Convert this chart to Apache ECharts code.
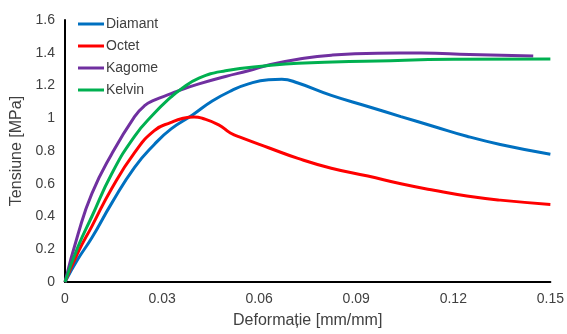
<!DOCTYPE html>
<html>
<head>
<meta charset="utf-8">
<script src="https://cdn.jsdelivr.net/npm/echarts@6/dist/echarts.min.js"></script>
<style>
  html, body { margin: 0; padding: 0; background: #fff; }
  #chart { width: 567px; height: 334px; }
</style>
</head>
<body>
<div id="chart"></div>
<script>
// strain [mm/mm] and stress [MPa]
const diamantX = [0, 0.004, 0.0083, 0.0144, 0.0215, 0.0276, 0.0328, 0.0394, 0.0455, 0.0516, 0.0567, 0.0629, 0.067, 0.072, 0.0823, 0.0936, 0.1038, 0.114, 0.1242, 0.1345, 0.15];
const diamantY = [0, 0.14, 0.27, 0.48, 0.70, 0.84, 0.935, 1.02, 1.105, 1.17, 1.21, 1.235, 1.238, 1.215, 1.14, 1.072, 1.01, 0.95, 0.89, 0.84, 0.78];

const octetX = [0, 0.004, 0.0083, 0.0144, 0.0215, 0.0276, 0.0328, 0.0365, 0.0399, 0.0424, 0.0475, 0.0511, 0.0547, 0.0629, 0.072, 0.0823, 0.0936, 0.1038, 0.114, 0.1242, 0.1345, 0.15];
const octetY = [0, 0.18, 0.34, 0.57, 0.79, 0.925, 0.975, 1.0, 1.008, 1.0, 0.96, 0.91, 0.88, 0.82, 0.755, 0.695, 0.647, 0.60, 0.56, 0.525, 0.50, 0.474];

const kagomeX = [0, 0.004, 0.0083, 0.0144, 0.0215, 0.0245, 0.0276, 0.0328, 0.0353, 0.0414, 0.0496, 0.0567, 0.0629, 0.072, 0.0823, 0.0966, 0.11, 0.125, 0.1447];
const kagomeY = [0, 0.29, 0.54, 0.78, 1.01, 1.075, 1.11, 1.15, 1.17, 1.21, 1.255, 1.29, 1.325, 1.36, 1.385, 1.397, 1.398, 1.39, 1.38];

const kelvinX = [0, 0.004, 0.0083, 0.0144, 0.0215, 0.0276, 0.0328, 0.0353, 0.0414, 0.0496, 0.0629, 0.072, 0.0966, 0.12, 0.15];
const kelvinY = [0, 0.215, 0.40, 0.66, 0.89, 1.03, 1.13, 1.17, 1.245, 1.29, 1.322, 1.336, 1.35, 1.36, 1.362];

const xTicks = { min: 0, max: 0.15, interval: 0.03 };
const yTicks = { min: 0, max: 1.6, interval: 0.2 };

const pairs = (xs, ys) => xs.map((x, i) => [x, ys[i]]);

const chart = echarts.init(document.getElementById('chart'));

const mkSeries = (name, xs, ys, color) => ({
  name: name,
  type: 'line',
  data: pairs(xs, ys),
  smooth: 0.5,
  showSymbol: false,
  lineStyle: { width: 3, color: color },
  itemStyle: { color: color }
});

const axisText = { color: '#404040', fontSize: 14, fontFamily: 'Liberation Sans, Arial, sans-serif' };

chart.setOption({
  animation: false,
  textStyle: { fontFamily: 'Liberation Sans, Arial, sans-serif' },
  grid: { left: 65, right: 14, top: 20, bottom: 51 },
  legend: {
    orient: 'vertical',
    left: 73,
    top: 12,
    itemWidth: 26,
    itemHeight: 3,
    itemGap: 8,
    icon: 'rect',
    textStyle: { color: '#404040', fontSize: 14, padding: [0, 0, 0, -3] },
    data: ['Diamant', 'Octet', 'Kagome', 'Kelvin']
  },
  xAxis: {
    type: 'value',
    min: xTicks.min,
    max: xTicks.max,
    interval: xTicks.interval,
    name: 'Deformație [mm/mm]',
    nameLocation: 'middle',
    nameGap: 31,
    nameTextStyle: { color: '#404040', fontSize: 16 },
    axisLine: { lineStyle: { color: '#000', width: 2 } },
    axisTick: { show: false },
    axisLabel: Object.assign({ margin: 10 }, axisText),
    splitLine: { show: false }
  },
  yAxis: {
    type: 'value',
    min: yTicks.min,
    max: yTicks.max,
    interval: yTicks.interval,
    name: 'Tensiune [MPa]',
    nameLocation: 'middle',
    nameGap: 38,
    nameTextStyle: { color: '#404040', fontSize: 16 },
    axisLine: { show: true, lineStyle: { color: '#000', width: 2 } },
    axisTick: { show: false },
    axisLabel: Object.assign({ margin: 10 }, axisText),
    splitLine: { show: false }
  },
  series: [
    mkSeries('Diamant', diamantX, diamantY, '#0070C0'),
    mkSeries('Octet', octetX, octetY, '#FF0000'),
    mkSeries('Kagome', kagomeX, kagomeY, '#7030A0'),
    mkSeries('Kelvin', kelvinX, kelvinY, '#00B050')
  ]
});
</script>
</body>
</html>
